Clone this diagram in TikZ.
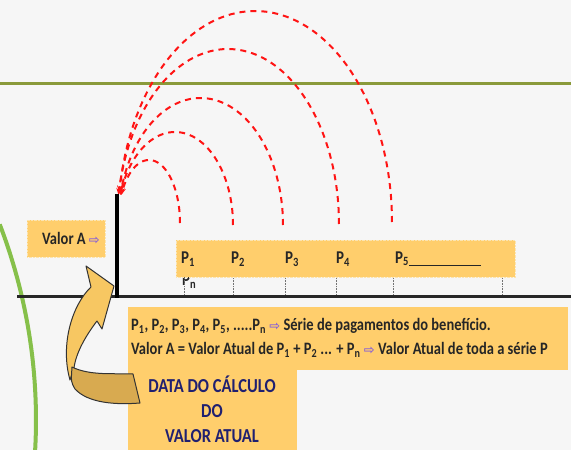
\documentclass[tikz,border=0pt]{standalone}
\usepackage{fontspec}
\setmainfont{Carlito}
\newfontfamily\djv{DejaVu Sans}
\usetikzlibrary{arrows.meta}
\definecolor{bgc}{RGB}{246,246,246}
\definecolor{boxc}{RGB}{255,206,108}
\definecolor{boxb}{RGB}{252,228,176}
\definecolor{olivec}{RGB}{138,154,58}
\definecolor{lgreen}{RGB}{134,192,74}
\definecolor{navyc}{RGB}{32,32,112}
\definecolor{purpc}{RGB}{140,100,210}
\definecolor{arrl}{RGB}{247,199,98}
\definecolor{arrd}{RGB}{216,170,80}
\definecolor{redc}{RGB}{255,20,20}
\newcommand\wa{{\djv\fontsize{13}{13}\selectfont\color{purpc}⇨}}
\newcommand\tall[1]{\scalebox{1}[1.2]{#1}}
\begin{document}
\begin{tikzpicture}[x=1pt,y=-1pt,
  box/.style={fill=boxc, draw=boxb, densely dotted, inner sep=0pt, anchor=north west},
  lab/.style={font=\bfseries\fontsize{15}{17}\selectfont, text=black!85, inner sep=0pt, anchor=west},
  txt/.style={font=\bfseries\fontsize{14.5}{16}\selectfont, text=black!85, inner sep=0pt, anchor=west},
  redarc/.style={draw=redc, line width=2pt, dash pattern=on 6pt off 5pt, -{Stealth[length=7pt,width=6pt]}},
  tickline/.style={draw=black!55, densely dotted, line width=0.6pt},
  arrowline/.style={draw=black!80, line width=1pt, line join=round}]
\useasboundingbox (0,0) rectangle (571,450);
\clip (0,0) rectangle (571,450);
\fill[bgc] (0,0) rectangle (571,450);
% olive line
\coordinate (ol0) at (0,83);
\coordinate (ol1) at (571,83);
\draw[olivec, line width=3pt] (ol0) -- (ol1);
% left green arc
\draw[lgreen, line width=4pt] plot[domain=-21:6, samples=60] ({-510+546*cos(\x)},{420+546*sin(\x)});
% red dashed arcs
\foreach \cx/\a/\b/\cy/\t in {149/31/63/223/153.6, 175/58/93/225/161, 200.5/82.5/127/225/166.3, 228/111/175/224/170.5, 255/137/211/222/172}
  \draw[redarc] plot[domain=0:\t, samples=80] ({\cx+\a*cos(\x)},{\cy-\b*sin(\x)});
% Pn below P1
\node[lab] (pn) at (182,281) {\tall{P\textsubscript{n}}};
% boxes
\node[box, minimum width=78pt, minimum height=37pt] (vabox) at (27,220) {};
\node[box, minimum width=339pt, minimum height=37pt] (pbox) at (176,240) {};
\node[box, draw=none, minimum width=440pt, minimum height=63pt] (tbox) at (128,307) {};
\node[box, draw=none, minimum width=169pt, minimum height=82pt] (dbox) at (128,369) {};
% texts
\node[txt] (va) at (42,238) {\tall{Valor A} \wa};
\node[lab] (p1) at (181,259) {\tall{P\textsubscript{1}}};
\node[lab] (p2) at (231,259) {\tall{P\textsubscript{2}}};
\node[lab] (p3) at (285,259) {\tall{P\textsubscript{3}}};
\node[lab] (p4) at (336,259) {\tall{P\textsubscript{4}}};
\node[lab] (p5) at (395,259) {\tall{P\textsubscript{5}}\rule[-3pt]{72pt}{1.5pt}};
\node[txt] (l1) at (131,326) {\tall{P\textsubscript{1}, P\textsubscript{2}, P\textsubscript{3}, P\textsubscript{4}, P\textsubscript{5}, .....P\textsubscript{n}} \wa\ \tall{Série de pagamentos do benefício.}};
\node[txt] (l2) at (131,350) {\tall{Valor A = Valor Atual de P\textsubscript{1} + P\textsubscript{2} ... + P\textsubscript{n}} \wa\ \tall{Valor Atual de toda a série P}};
\node[font=\bfseries\fontsize{16.5}{25}\selectfont, text=navyc, align=center, inner sep=0pt] (data) at (212,409) {\tall{DATA DO CÁLCULO}\\\tall{DO}\\\tall{VALOR ATUAL}};
% ticks
\foreach \x in {184,233,285,336,393,502}
  \draw[tickline] (\x,278) -- (\x,296);
% timeline and date bar
\coordinate (tl0) at (17,296);
\coordinate (tl1) at (571,296);
\draw[black!85, line width=3pt] (tl0) -- (tl1);
\coordinate (vb0) at (117,297.5);
\coordinate (vb1) at (117,194);
\draw[black, line width=4pt] (vb0) -- (vb1);
% curved block arrow
\filldraw[arrowline, fill=arrl] (114,286) -- (86,266) -- (91,287)
  .. controls (72,305) and (60,345) .. (70,380) -- (74,368)
  .. controls (76,352) and (87,334) .. (97,321) -- (102,329) -- cycle;
\filldraw[arrowline, fill=arrd] (72,367) .. controls (90,376) and (115,373) .. (133,374)
  -- (140,403) .. controls (115,405) and (88,403) .. (75,389)
  .. controls (71,382) .. (72,367) -- cycle;
\end{tikzpicture}
\end{document}
